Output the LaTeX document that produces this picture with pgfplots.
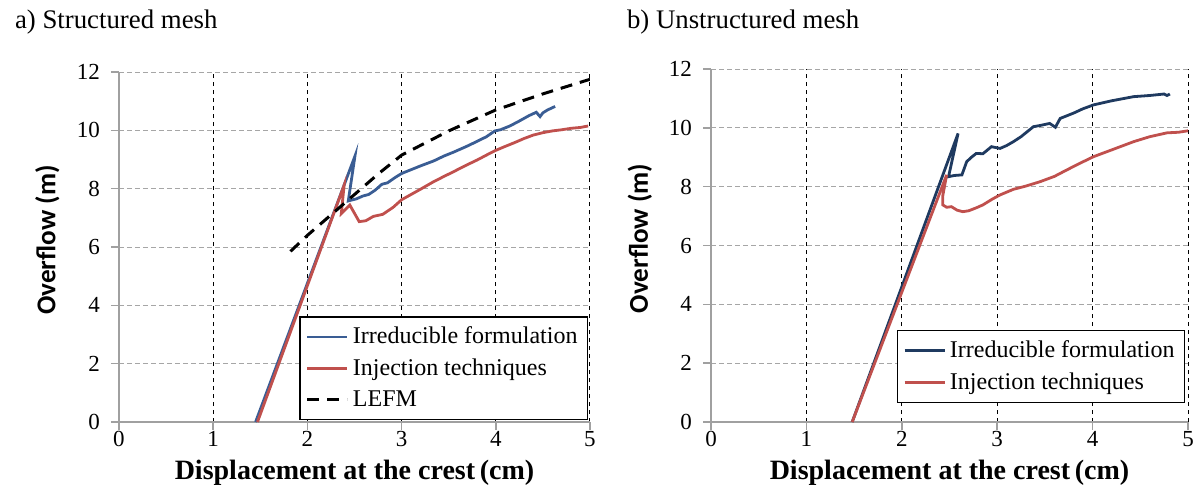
\documentclass[border=0pt]{standalone}
\usepackage{fontspec}
\setmainfont{Liberation Serif}
\newfontfamily\tnr{Liberation Serif}
\newfontfamily\calibri{Carlito}
\usepackage{pgfplots}
\pgfplotsset{compat=1.18}

\definecolor{blueA}{HTML}{3A5D94}
\definecolor{blueB}{HTML}{1F3A60}
\definecolor{redC}{HTML}{C0504D}
\definecolor{axgray}{HTML}{A0A0A0}

\pgfplotsset{
  dam/.style={
    scale only axis,
    anchor=south west,
    xmin=0, xmax=5, ymin=0, ymax=12,
    xtick={0,...,5}, ytick={0,2,...,12},
    axis lines=left,
    axis line style={-, draw=axgray, line width=0.8pt},
    tick align=outside, major tick length=4pt,
    tick style={axgray, line width=0.8pt},
    xmajorgrids, ymajorgrids,
    x grid style={black, line width=0.5pt, dash pattern=on 2pt off 2pt},
    y grid style={gray!70, line width=0.5pt, dash pattern=on 2.5pt off 1.5pt},
    /pgf/number format/assume math mode=true,
    tick label style={font=\tnr\fontsize{11.5}{13}\selectfont},
    xticklabel style={yshift=3pt},
    yticklabel style={xshift=-2pt},
    xlabel={Displacement at the crest\,(cm)},
    ylabel={Overflow (m)},
    xlabel style={font=\tnr\bfseries\fontsize{14}{16}\selectfont,
      at={(axis description cs:0.5,-0.145)}, anchor=center},
    ylabel style={font=\calibri\bfseries\fontsize{13.6}{16}\selectfont,
      anchor=center},
    legend style={font=\tnr\fontsize{12}{14}\selectfont, draw=black,
      line width=0.6pt, cells={anchor=west}, row sep=2pt,
      inner xsep=3pt, inner ysep=3pt},
    legend image code/.code={\draw[#1] (0pt,0pt) -- (20pt,0pt);},
  }
}

\begin{document}
\begin{tikzpicture}
\path[use as bounding box] (-59.5pt,-36.5pt) rectangle (542.5pt,211pt);

\node[anchor=base west, font=\tnr\fontsize{13.4}{16}\selectfont] at (-55.5pt,197pt) {a) Structured mesh};
\node[anchor=base west, font=\tnr\fontsize{13.4}{16}\selectfont] at (250.5pt,197pt) {b) Unstructured mesh};

% a) structured mesh
\begin{axis}[dam, at={(0pt,0pt)}, width=235.5pt, height=175pt,
  ylabel style={at={(axis description cs:-0.152,0.52)}},
  legend style={at={(0.996,0.006)}, anchor=south east}]
\addplot [color=blueA, line width=1.4pt] coordinates {
(1.45,0) (2.505,9.12) (2.434,7.58) (2.52,7.65) (2.59,7.75) (2.65,7.8) (2.72,7.95)
(2.79,8.15) (2.85,8.2) (2.93,8.38) (3.0,8.52) (3.1,8.65) (3.2,8.78) (3.34,8.95)
(3.45,9.12) (3.55,9.25) (3.69,9.45) (3.8,9.62) (3.9,9.78) (3.99,9.98) (4.05,10.02)
(4.15,10.15) (4.25,10.32) (4.35,10.5) (4.43,10.62) (4.47,10.47) (4.5,10.6)
(4.55,10.7) (4.63,10.82)};
\addlegendentry{Irreducible formulation}
\addplot [color=redC, line width=1.4pt] coordinates {
(1.47,0) (2.39,8.12) (2.36,7.15) (2.45,7.44) (2.55,6.87) (2.62,6.9) (2.70,7.05)
(2.8,7.12) (2.91,7.36) (3.0,7.62) (3.1,7.8) (3.2,7.98) (3.34,8.24) (3.45,8.42)
(3.55,8.58) (3.69,8.81) (3.8,8.98) (3.9,9.15) (3.99,9.3) (4.1,9.45) (4.2,9.58)
(4.3,9.72) (4.4,9.84) (4.5,9.92) (4.6,9.98) (4.7,10.02) (4.8,10.07) (4.9,10.1)
(4.98,10.15)};
\addlegendentry{Injection techniques}
\addplot [color=black, line width=1.5pt, dash pattern=on 6pt off 4pt] coordinates {
(1.82,5.85) (2.0,6.4) (2.25,7.1) (2.5,7.8) (2.75,8.5) (3.0,9.15) (3.5,9.98)
(4.0,10.7) (4.5,11.25) (5.0,11.75)};
\addlegendentry{LEFM}
\end{axis}

% b) unstructured mesh
\begin{axis}[dam, at={(296pt,0pt)}, width=238.5pt, height=176.5pt,
  ylabel style={at={(axis description cs:-0.149,0.52)}},
  legend style={at={(0.994,0.054)}, anchor=south east}]
\addplot [color=blueB, line width=1.4pt] coordinates {
(1.48,0) (2.59,9.81) (2.49,8.34) (2.55,8.38) (2.63,8.40) (2.68,8.85) (2.73,9.0)
(2.78,9.13) (2.85,9.12) (2.94,9.36) (3.03,9.3) (3.1,9.4) (3.17,9.53) (3.25,9.7)
(3.38,10.04) (3.45,10.08) (3.55,10.15) (3.61,10.02) (3.66,10.32) (3.8,10.5)
(3.9,10.65) (4.01,10.78) (4.2,10.92) (4.43,11.06) (4.6,11.1) (4.75,11.15)
(4.78,11.1) (4.81,11.15)};
\addlegendentry{Irreducible formulation}
\addplot [color=redC, line width=1.4pt] coordinates {
(1.48,0) (2.47,8.40) (2.43,7.7) (2.43,7.38) (2.47,7.3) (2.52,7.32) (2.58,7.2)
(2.64,7.15) (2.7,7.18) (2.78,7.28) (2.85,7.38) (2.95,7.58) (3.03,7.72) (3.17,7.91)
(3.3,8.02) (3.45,8.17) (3.6,8.35) (3.73,8.57) (3.87,8.8) (4.01,9.02) (4.2,9.25)
(4.43,9.53) (4.6,9.7) (4.78,9.83) (4.9,9.85) (5.0,9.9)};
\addlegendentry{Injection techniques}
\end{axis}
\end{tikzpicture}
\end{document}
